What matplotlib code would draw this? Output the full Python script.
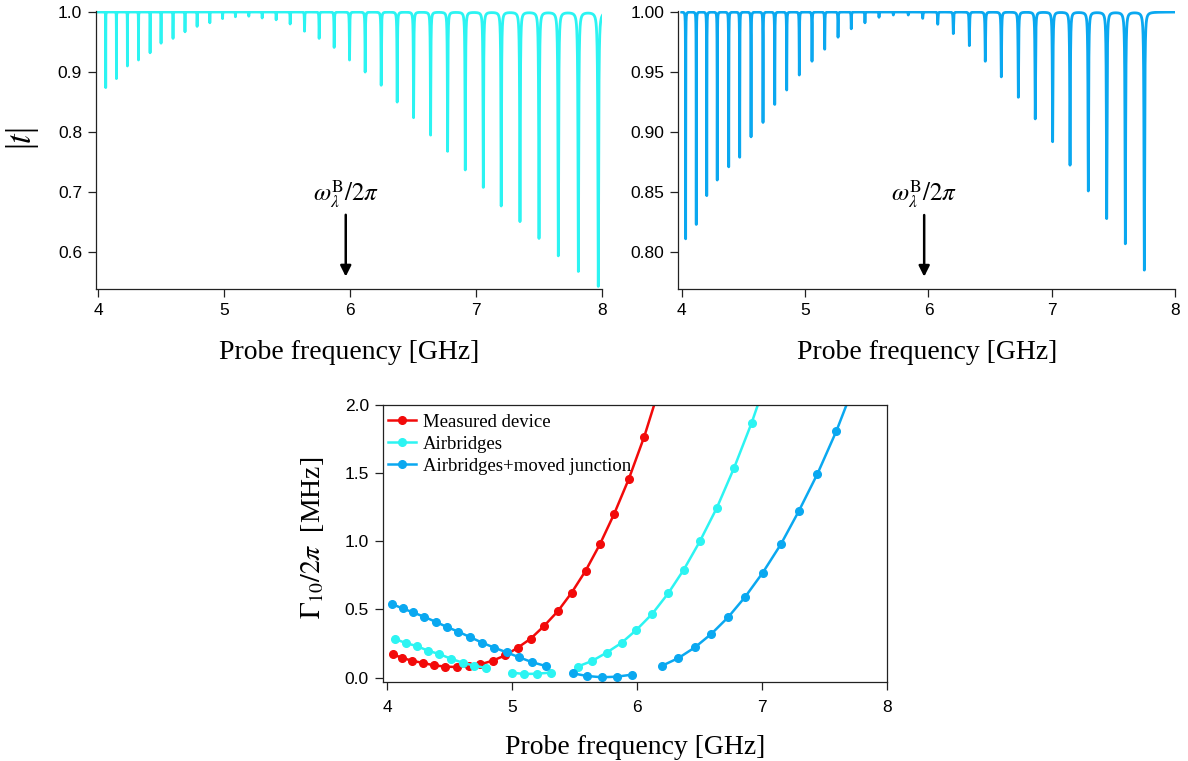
import numpy as np
import matplotlib
matplotlib.use("Agg")
import matplotlib.pyplot as plt

plt.rcParams['mathtext.fontset'] = 'stix'
plt.rcParams['font.family'] = ['Liberation Sans', 'DejaVu Sans']

# ---------------- data ----------------
# Top-left panel (Airbridges): resonance dips
left_f0 = [4.061, 4.146, 4.233, 4.321, 4.413, 4.500, 4.595, 4.690, 4.786, 4.887,
           4.988, 5.090, 5.196, 5.302, 5.413, 5.524, 5.638, 5.754, 5.873, 5.995,
           6.119, 6.246, 6.373, 6.503, 6.638, 6.773, 6.913, 7.056, 7.198, 7.347,
           7.498, 7.651, 7.810, 7.968]
left_tmin = [0.874, 0.889, 0.910, 0.920, 0.932, 0.948, 0.956, 0.967, 0.976, 0.982,
             0.989, 0.992, 0.993, 0.990, 0.987, 0.980, 0.968, 0.956, 0.941, 0.920,
             0.900, 0.878, 0.850, 0.824, 0.795, 0.768, 0.737, 0.708, 0.677, 0.651,
             0.623, 0.594, 0.568, 0.543]
left_width = [0.0004, 0.0004, 0.0005, 0.0005, 0.0005, 0.0006, 0.0006, 0.0007, 0.0007, 0.0008,
              0.0008, 0.0009, 0.0010, 0.0011, 0.0012, 0.0013, 0.0014, 0.0015, 0.0016, 0.0017,
              0.0018, 0.0019, 0.0020, 0.0021, 0.0022, 0.0023, 0.0025, 0.0026, 0.0027, 0.0029,
              0.0030, 0.0032, 0.0034, 0.0036]

# Top-right panel (Airbridges + moved junction): resonance dips
right_f0 = [4.032, 4.118, 4.203, 4.288, 4.381, 4.470, 4.562, 4.659, 4.754, 4.851,
            4.953, 5.056, 5.159, 5.267, 5.374, 5.485, 5.599, 5.715, 5.836, 5.953,
            6.075, 6.201, 6.331, 6.460, 6.590, 6.728, 6.865, 7.006, 7.147, 7.295,
            7.444, 7.595, 7.749]
right_tmin = [0.811, 0.823, 0.847, 0.860, 0.871, 0.879, 0.896, 0.908, 0.923, 0.935,
              0.9475, 0.959, 0.969, 0.979, 0.986, 0.991, 0.9956, 0.9975, 0.9975, 0.9947,
              0.9898, 0.982, 0.972, 0.959, 0.946, 0.929, 0.911, 0.892, 0.8725, 0.851,
              0.828, 0.807, 0.785]
right_width = [0.0008, 0.0008, 0.0009, 0.0009, 0.0010, 0.0010, 0.0011, 0.0011, 0.0012, 0.0012,
               0.0013, 0.0013, 0.0014, 0.0015, 0.0015, 0.0016, 0.0017, 0.0017, 0.0018, 0.0019,
               0.0020, 0.0021, 0.0022, 0.0023, 0.0024, 0.0025, 0.0026, 0.0027, 0.0028, 0.0029,
               0.0030, 0.0031, 0.0032]

# Bottom panel: Gamma_10 / 2pi [MHz]
meas_f = [4.041, 4.113, 4.199, 4.284, 4.369, 4.463, 4.553, 4.649, 4.743, 4.841,
          4.943, 5.041, 5.145, 5.252, 5.364, 5.473, 5.585, 5.700, 5.815, 5.932,
          6.055, 6.175]
meas_g = [0.173, 0.146, 0.124, 0.108, 0.091, 0.081, 0.078, 0.083, 0.098, 0.124,
          0.164, 0.219, 0.285, 0.378, 0.488, 0.622, 0.783, 0.978, 1.203, 1.459,
          1.768, 2.120]

ab_f1 = [4.058, 4.146, 4.234, 4.324, 4.415, 4.508, 4.601, 4.695, 4.788]
ab_g1 = [0.285, 0.254, 0.232, 0.198, 0.173, 0.139, 0.110, 0.088, 0.071]
ab_f2 = [4.993, 5.095, 5.198, 5.305]
ab_g2 = [0.037, 0.027, 0.029, 0.037]
ab_f3 = [5.521, 5.636, 5.753, 5.873, 5.993, 6.119, 6.247, 6.372, 6.500, 6.636,
         6.774, 6.914, 7.050]
ab_g3 = [0.081, 0.122, 0.183, 0.255, 0.351, 0.468, 0.619, 0.793, 1.000, 1.246,
         1.539, 1.868, 2.230]

mj_f1 = [4.039, 4.121, 4.207, 4.295, 4.385, 4.473, 4.567, 4.660, 4.759, 4.855,
         4.953, 5.055, 5.159, 5.265]
mj_g1 = [0.539, 0.508, 0.478, 0.446, 0.410, 0.373, 0.337, 0.298, 0.256, 0.220,
         0.186, 0.149, 0.113, 0.086]
mj_f2 = [5.481, 5.599, 5.716, 5.833, 5.956]
mj_g2 = [0.032, 0.012, 0.003, 0.007, 0.022]
mj_f3 = [6.199, 6.329, 6.460, 6.593, 6.727, 6.863, 7.004, 7.148, 7.292, 7.441,
         7.593, 7.745]
mj_g3 = [0.088, 0.144, 0.222, 0.322, 0.444, 0.593, 0.771, 0.978, 1.222, 1.495,
         1.810, 2.170]

series_labels = ["Measured device", "Airbridges", "Airbridges+moved junction"]

C_RED = '#F20A0A'
C_CYAN = '#2CF4F2'
C_BLUE = '#0AA8F0'
SPINE = '#222222'
SERIF = ['Liberation Serif', 'DejaVu Serif']

# ---------------- helpers ----------------
def transmission(freq, f0s, tmins, widths):
    t = np.ones_like(freq)
    for f0, tm, g in zip(f0s, tmins, widths):
        t -= (1.0 - tm) * g**2 / ((freq - f0)**2 + g**2)
    return t

def style_axes(ax, full_box=False, pad=4):
    for s in ['left', 'bottom', 'top', 'right']:
        ax.spines[s].set_color(SPINE)
        ax.spines[s].set_linewidth(0.9)
    if not full_box:
        ax.spines['top'].set_visible(False)
        ax.spines['right'].set_visible(False)
    ax.tick_params(direction='out', length=6, width=0.9, color=SPINE,
                   labelsize=12.5, pad=4, top=False, right=False)
    ax.tick_params(axis='x', pad=pad)
    ax.set_xticks([4, 5, 6, 7, 8])
    ax.set_xticklabels(['4', '5', '6', '7', '8'])

fig = plt.figure(figsize=(11.88, 7.61), dpi=100)
W, H = 1188.0, 761.0

def add_ax(l, r, t, b):
    return fig.add_axes([l / W, 1 - b / H, (r - l) / W, (b - t) / H])

freq = np.linspace(4.0, 8.0, 400001)

# ---------------- top-left ----------------
ax1 = add_ax(96, 602.3, 11, 289)
t1 = transmission(freq, left_f0, left_tmin, left_width)
ax1.plot(freq, t1, color=C_CYAN, lw=2.0)
ax1.set_xlim(3.984, 8.0)
ax1.set_ylim(1.0 - 277 / 600.0, 1.0 + 1 / 600.0)
style_axes(ax1)
ax1.set_yticks([0.6, 0.7, 0.8, 0.9, 1.0])
ax1.set_yticklabels(['0.6', '0.7', '0.8', '0.9', '1.0'])
ax1.set_xlabel('Probe frequency [GHz]', family=SERIF, fontsize=20, labelpad=16)
ax1.set_ylabel(r'|$t$|', family=SERIF, fontsize=25)
ax1.yaxis.set_label_coords(-0.109, 0.54)
ax1.text(5.965, 0.697, r'$\omega_\lambda^{\rm B}/2\pi$', ha='center', va='center', fontsize=18)
ax1.annotate('', xy=(5.965, 0.559), xytext=(5.965, 0.662),
             arrowprops=dict(arrowstyle='-|>', color='k', lw=1.8, mutation_scale=16,
                             shrinkA=0, shrinkB=0))

# ---------------- top-right ----------------
ax2 = add_ax(678.3, 1175.3, 11, 288.7)
t2 = transmission(freq, right_f0, right_tmin, right_width)
ax2.plot(freq, t2, color=C_BLUE, lw=2.0)
ax2.set_xlim(3.9725, 8.0)
ax2.set_ylim(1.0 - 276.7 / 1200.0, 1.0 + 1 / 1200.0)
style_axes(ax2)
ax2.set_yticks([0.80, 0.85, 0.90, 0.95, 1.00])
ax2.set_yticklabels(['0.80', '0.85', '0.90', '0.95', '1.00'])
ax2.set_xlabel('Probe frequency [GHz]', family=SERIF, fontsize=20, labelpad=16)
ax2.text(5.965, 0.8485, r'$\omega_\lambda^{\rm B}/2\pi$', ha='center', va='center', fontsize=18)
ax2.annotate('', xy=(5.965, 0.7794), xytext=(5.965, 0.8308),
             arrowprops=dict(arrowstyle='-|>', color='k', lw=1.8, mutation_scale=16,
                             shrinkA=0, shrinkB=0))

# ---------------- bottom ----------------
ax3 = add_ax(382.7, 887.3, 405, 682.3)
mk = dict(marker='o', markersize=5.5, lw=1.8)
ax3.plot(meas_f, meas_g, color=C_RED, label=series_labels[0], **mk)
ax3.plot(ab_f1, ab_g1, color=C_CYAN, label=series_labels[1], **mk)
ax3.plot(ab_f2, ab_g2, color=C_CYAN, **mk)
ax3.plot(ab_f3, ab_g3, color=C_CYAN, **mk)
ax3.plot(mj_f1, mj_g1, color=C_BLUE, label=series_labels[2], **mk)
ax3.plot(mj_f2, mj_g2, color=C_BLUE, **mk)
ax3.plot(mj_f3, mj_g3, color=C_BLUE, **mk)
ax3.set_xlim(3.962, 8.0)
ax3.set_ylim(-0.034, 2.0)
style_axes(ax3, full_box=True, pad=7)
ax3.set_yticks([0.0, 0.5, 1.0, 1.5, 2.0])
ax3.set_yticklabels(['0.0', '0.5', '1.0', '1.5', '2.0'])
ax3.set_xlabel('Probe frequency [GHz]', family=SERIF, fontsize=20, labelpad=14)
ax3.set_ylabel(r'$\Gamma_{10}/2\pi$  [MHz]', family=SERIF, fontsize=20)
ax3.yaxis.set_label_coords(-0.112, 0.52)
leg = ax3.legend(loc='upper left', frameon=False, prop={'family': SERIF, 'size': 13.5},
                 handlelength=1.5, handletextpad=0.35, labelspacing=0.27,
                 borderaxespad=0.3, borderpad=0.0, bbox_to_anchor=(0.0, 0.99))

fig.savefig('out.png', dpi=100)
